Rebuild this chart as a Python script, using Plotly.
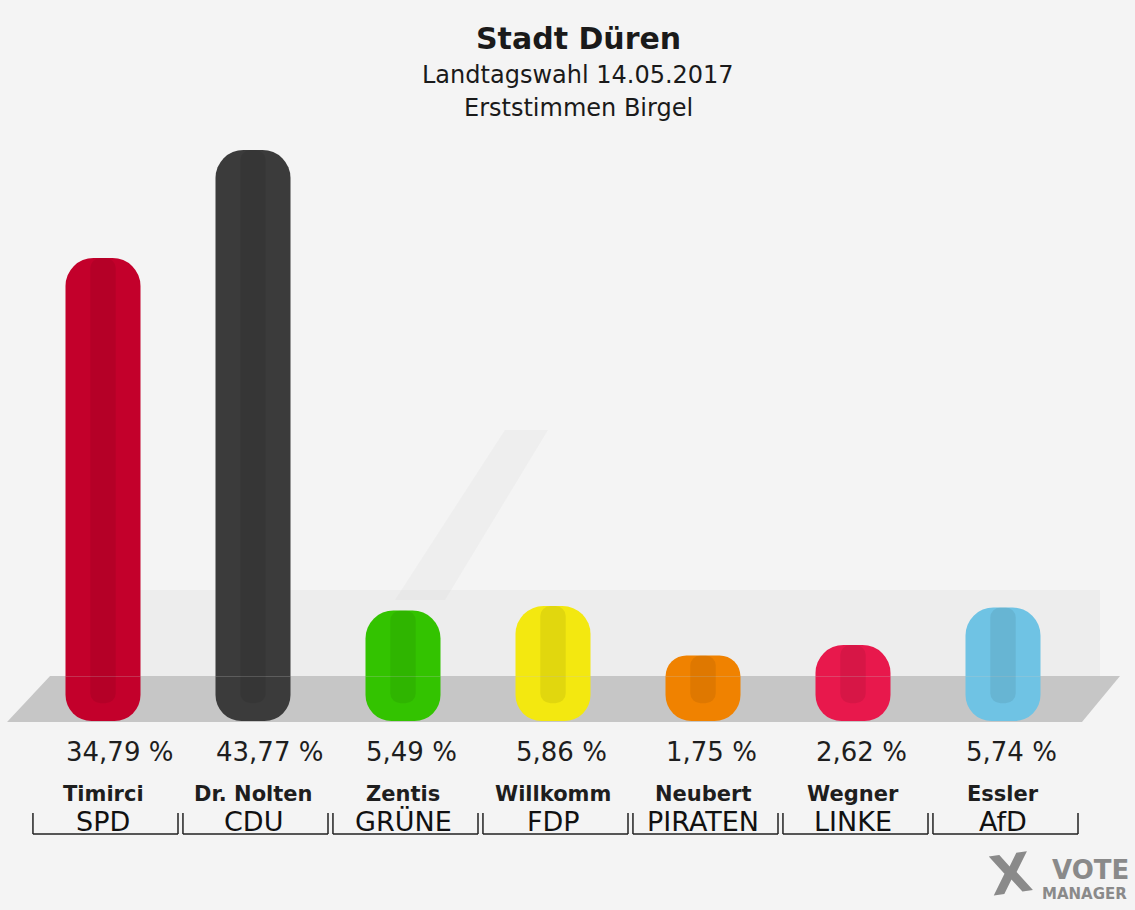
import plotly.graph_objects as go

# ---- data ----
parties = ["SPD", "CDU", "GRÜNE", "FDP", "PIRATEN", "LINKE", "AfD"]
candidates = ["Timirci", "Dr. Nolten", "Zentis", "Willkomm", "Neubert", "Wegner", "Essler"]
values = [34.79, 43.77, 5.49, 5.86, 1.75, 2.62, 5.74]
value_labels = ["34,79 %", "43,77 %", "5,49 %", "5,86 %", "1,75 %", "2,62 %", "5,74 %"]
colors = ["#c3002b", "#3b3b3b", "#33c300", "#f3e810", "#f08200", "#e8184c", "#6fc3e4"]

title = "Stadt Düren"
subtitle1 = "Landtagswahl 14.05.2017"
subtitle2 = "Erststimmen Birgel"

W, H = 1135, 910
CAP = 3.7          # depth of the rounded bottom cap (axis units)
BAR_W = 0.5
FONT = "DejaVu Sans, Liberation Sans, Arial, sans-serif"

fig = go.Figure()

# bar bodies (rounded top)
fig.add_trace(go.Bar(
    x=parties, y=values, width=BAR_W,
    marker=dict(color=colors, line=dict(width=0), cornerradius=28),
    hovertext=[f"{c} ({p}): {v}" for c, p, v in zip(candidates, parties, value_labels)],
    hoverinfo="text", showlegend=False,
))
# rounded bottom caps of the cylinders
fig.add_trace(go.Bar(
    x=parties, y=[-CAP] * len(parties), width=BAR_W,
    marker=dict(color=colors, line=dict(width=0), cornerradius=26),
    hoverinfo="skip", showlegend=False,
))
# subtle darker centre stripe for a cylindrical look
fig.add_trace(go.Bar(
    x=parties, y=[v + CAP * 0.6 for v in values], base=[-CAP * 0.6] * len(parties), width=BAR_W * 0.34,
    marker=dict(color="rgba(0,0,0,0.07)", line=dict(width=0), cornerradius=10),
    hoverinfo="skip", showlegend=False,
))

shapes = []
# faint diagonal watermark stripe in the background
wx = [395, 445, 548, 505]
wy = [600, 600, 430, 430]
wpath = "M " + " L ".join(f"{x / W:.4f},{1 - y / H:.4f}" for x, y in zip(wx, wy)) + " Z"
shapes.append(dict(type="path", xref="paper", yref="paper", path=wpath,
                   fillcolor="rgba(200,200,200,0.13)", line=dict(width=0), layer="below"))
# background band behind the lower bars
shapes.append(dict(type="rect", xref="paper", yref="paper", x0=140 / W, x1=1100 / W,
                   y0=1 - 676 / H, y1=1 - 590 / H, fillcolor="rgba(215,215,215,0.25)",
                   line=dict(width=0), layer="below"))
# grey floor parallelogram
fx = [7, 50, 1120, 1082]
fy = [722, 676, 676, 722]
path = "M " + " L ".join(f"{x / W:.4f},{1 - y / H:.4f}" for x, y in zip(fx, fy)) + " Z"
shapes.append(dict(type="path", xref="paper", yref="paper", path=path,
                   fillcolor="#c6c6c6", line=dict(width=0), layer="below"))

annotations = []
y_val, y_cand, y_party = 1 - 752 / H, 1 - 794 / H, 1 - 821 / H
y_line, y_tick = 1 - 834 / H, 1 - 813 / H
for i, (p, c, lab) in enumerate(zip(parties, candidates, value_labels)):
    annotations.append(dict(x=i - BAR_W / 2 - 0.01, y=y_val, xref="x", yref="paper", text=lab,
                            showarrow=False, xanchor="left",
                            font=dict(family=FONT, size=26, color="#1e1e1e"), yanchor="middle"))
    annotations.append(dict(x=p, y=y_cand, xref="x", yref="paper", text=f"<b>{c}</b>", showarrow=False,
                            font=dict(family=FONT, size=21, color="#1e1e1e"), yanchor="middle"))
    annotations.append(dict(x=p, y=y_party, xref="x", yref="paper", text=p, showarrow=False,
                            font=dict(family=FONT, size=27, color="#111111"), yanchor="middle"))

for i in range(len(parties)):
    x0, x1 = i - 0.467, i + 0.5
    line = dict(color="#222222", width=1.5)
    shapes.append(dict(type="line", xref="x", yref="paper", x0=x0, x1=x1, y0=y_line, y1=y_line, line=line))
    shapes.append(dict(type="line", xref="x", yref="paper", x0=x0, x1=x0, y0=y_line, y1=y_tick, line=line))
    shapes.append(dict(type="line", xref="x", yref="paper", x0=x1, x1=x1, y0=y_line, y1=y_tick, line=line))

# titles
cx = 578 / W
annotations += [
    dict(x=cx, y=1 - 39 / H, xref="paper", yref="paper", text=f"<b>{title}</b>", showarrow=False,
         font=dict(family=FONT, size=30, color="#1a1a1a"), yanchor="middle"),
    dict(x=cx, y=1 - 75 / H, xref="paper", yref="paper", text=subtitle1, showarrow=False,
         font=dict(family=FONT, size=24, color="#1a1a1a"), yanchor="middle"),
    dict(x=cx, y=1 - 108 / H, xref="paper", yref="paper", text=subtitle2, showarrow=False,
         font=dict(family=FONT, size=24, color="#1a1a1a"), yanchor="middle"),
]

# VOTE MANAGER logo
annotations += [
    dict(x=1038 / W, y=1 - 874 / H, xref="paper", yref="paper", text="<b>X</b>", showarrow=False,
         xanchor="right", font=dict(family=FONT, size=54, color="#8a8a8a"), yanchor="middle",
         textangle=-8),
    dict(x=1131 / W, y=1 - 870 / H, xref="paper", yref="paper", text="<b>VOTE</b>", showarrow=False,
         xanchor="right", font=dict(family=FONT, size=26, color="#8a8a8a"), yanchor="middle"),
    dict(x=1129 / W, y=1 - 894 / H, xref="paper", yref="paper", text="<b>MANAGER</b>", showarrow=False,
         xanchor="right", font=dict(family=FONT, size=15, color="#8a8a8a"), yanchor="middle"),
]

# axis mapping: category i centred at pixel 103 + 150*i ; value v at pixel 676.5 - 12.03*v
k = 12.03
x_r0 = -103 / 150
fig.update_layout(
    width=W, height=H,
    margin=dict(l=0, r=0, t=0, b=0),
    paper_bgcolor="#f4f4f4", plot_bgcolor="rgba(0,0,0,0)",
    barmode="overlay",
    xaxis=dict(range=[x_r0, x_r0 + W / 150], showticklabels=False, showgrid=False,
               zeroline=False, showline=False, fixedrange=True),
    yaxis=dict(range=[-(H - 676.5) / k, 676.5 / k], showticklabels=False, showgrid=False,
               zeroline=False, showline=False, fixedrange=True),
    shapes=shapes, annotations=annotations,
)

fig.write_html("out.html", config={"displayModeBar": False},
               post_script="document.body.style.margin='0';document.body.style.overflow='hidden';")
